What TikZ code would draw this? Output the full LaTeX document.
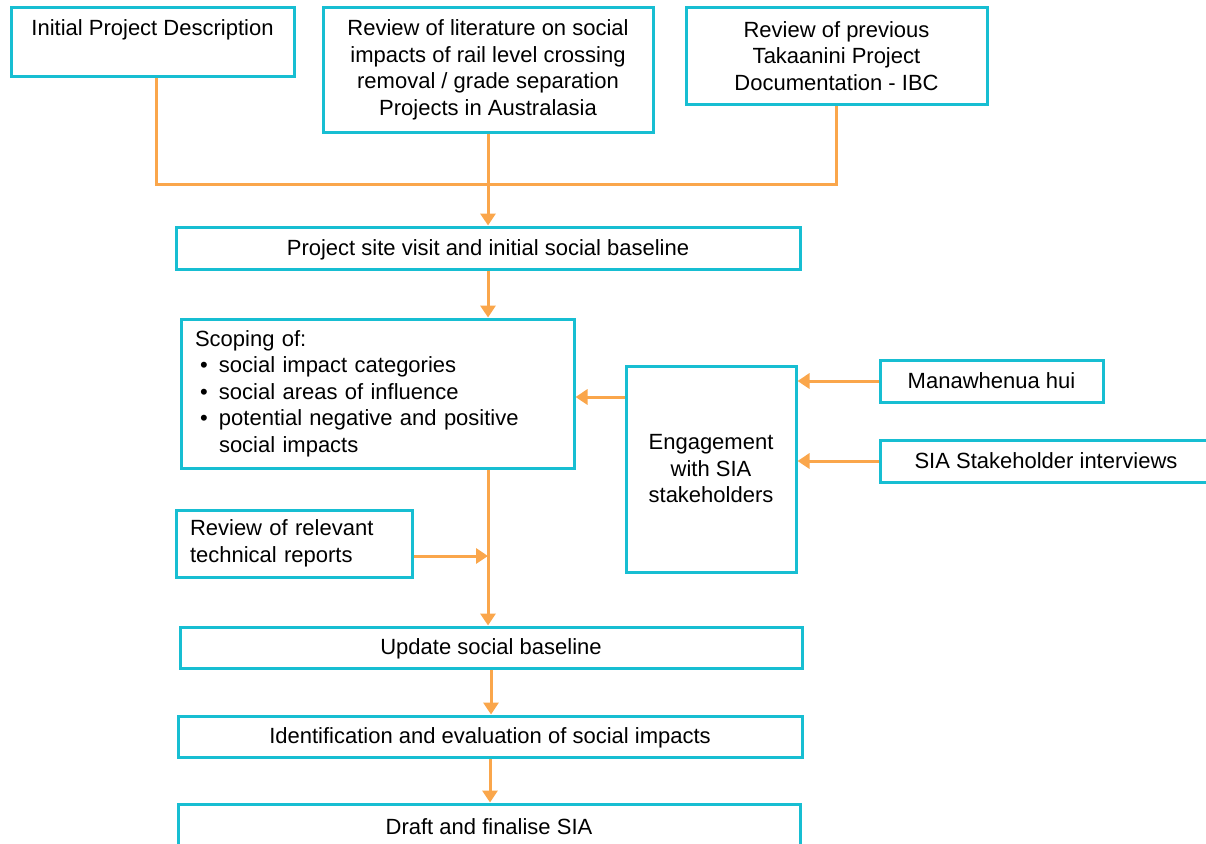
\documentclass[tikz,border=0pt]{standalone}
\usepackage{fontspec}
\setmainfont{Liberation Sans}
\usetikzlibrary{arrows.meta,calc}
\definecolor{boxc}{RGB}{23,190,210}
\definecolor{arrc}{RGB}{250,166,75}
\begin{document}
\begin{tikzpicture}[x=1pt,y=-1pt,
  box/.style={draw=boxc, line width=3pt, fill=white, inner sep=0pt, align=center,
    font=\fontsize{22}{26.5}\selectfont},
  lbl/.style={inner sep=0pt, font=\fontsize{22}{26.5}\selectfont},
  conn/.style={draw=arrc, line width=3pt},
  arr/.style={conn, -{Triangle[width=15pt,length=12pt]}}]
\useasboundingbox (0,0) rectangle (1206,843);
\node[box, minimum width=283pt, minimum height=68pt] (b1) at (152.5,42) {};
\node[lbl] (t1) at (152.5,30) {Initial Project Description};
\node[box, minimum width=330pt, minimum height=124pt] (b2) at (488,70)
  {Review of literature on social\\impacts of rail level crossing\\removal / grade separation\\Projects in Australasia};
\node[box, minimum width=301pt, minimum height=96pt] (b3) at (836.5,56)
  {Review of previous\\Takaanini Project\\Documentation - IBC};
\node[box, minimum width=624pt, minimum height=42pt, text height=17pt, text depth=3pt] (b4) at (488,248)
  {Project site visit and initial social baseline};
\node[box, align=left, text width=365pt, inner xsep=14pt, minimum height=149pt] (b5) at (377.5,393.5)
  {Scoping of:\\
   \hspace*{5pt}\makebox[19pt][l]{\textbullet}social impact categories\\
   \hspace*{5pt}\makebox[19pt][l]{\textbullet}social areas of influence\\
   \hspace*{5pt}\makebox[19pt][l]{\textbullet}potential negative and positive\\
   \hspace*{24pt}social impacts};
\node[box, minimum width=170pt, minimum height=206pt] (b6) at (711,469)
  {Engagement\\with SIA\\stakeholders};
\node[box, minimum width=223pt, minimum height=42pt, text height=17pt, text depth=3pt] (b7) at (991.5,381) {Manawhenua hui};
\node[box, minimum width=332pt, minimum height=42pt, text height=17pt, text depth=3pt] (b8) at (1046,461) {SIA Stakeholder interviews};
\node[box, align=left, text width=208pt, inner xsep=14pt, minimum height=67pt] (b9) at (294,543.5)
  {Review of relevant\\technical reports};
\node[box, minimum width=622pt, minimum height=41pt, text height=17pt, text depth=3pt] (b10) at (491,647.5) {Update social baseline};
\node[box, minimum width=624pt, minimum height=41pt, text height=17pt, text depth=3pt] (b11) at (490,736.5)
  {Identification and evaluation of social impacts};
\node[box, minimum width=622pt, minimum height=46pt, text height=17pt, text depth=3pt] (b12) at (489,827) {Draft and finalise SIA};
\coordinate (j1) at (156,184);
\coordinate (e1) at (0,397);
\draw[conn] (b1.south -| j1) -- (j1) -- (j1 -| b3.south) -- (b3.south);
\draw[arr] (b2.south) -- (b4.north -| b2.south);
\draw[arr] (b4.south) -- (b4.south |- b5.north);
\draw[arr] (b4.south |- b5.south) -- (b4.south |- b10.north);
\draw[arr] ([yshift=-12.5pt]b9.east) -- ([yshift=-12.5pt]b9.east -| b4.south);
\draw[arr] (b6.west |- e1) -- (b5.east |- e1);
\draw[arr] (b7.west) -- (b7.west -| b6.east);
\draw[arr] (b8.west) -- (b8.west -| b6.east);
\draw[arr] (b10.south) -- (b10.south |- b11.north);
\draw[arr] (b11.south) -- (b11.south |- b12.north);
\end{tikzpicture}
\end{document}
